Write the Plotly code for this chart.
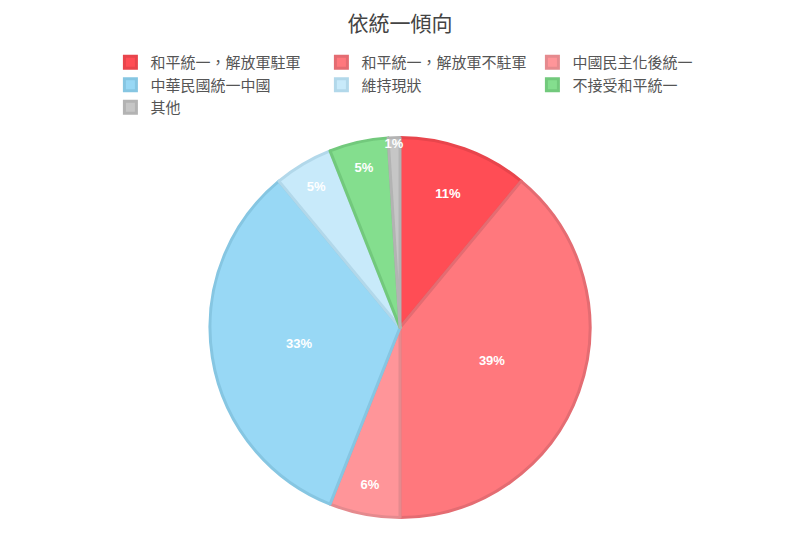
import plotly.graph_objects as go

labels = ["和平統一，解放軍駐軍", "和平統一，解放軍不駐軍", "中國民主化後統一",
          "中華民國統一中國", "維持現狀", "不接受和平統一", "其他"]
values = [11, 39, 6, 33, 5, 5, 1]
colors = ["#FF4D55", "#FF787D", "#FF9599", "#98D8F5", "#C8EAFA", "#84DE8E", "#C6C6C6"]
edge_colors = ["#E8454C", "#E46C72", "#E58A8E", "#86C6E2", "#B2D8EA", "#72C97C", "#B3B3B3"]

fig = go.Figure(go.Pie(
    labels=labels,
    values=values,
    sort=False,
    direction="clockwise",
    rotation=0,
    marker=dict(colors=colors, line=dict(color=edge_colors, width=3)),
    textinfo="percent",
    texttemplate="%{percent:.0%}",
    textposition="inside",
    insidetextorientation="horizontal",
    textfont=dict(color="white", size=13, family="Liberation Sans, Arial, sans-serif", weight="bold"),
    domain=dict(x=[0.2525, 0.7275], y=[0.0457, 0.8032]),
    hoverinfo="label+percent",
))

fig.update_layout(
    width=800, height=533,
    margin=dict(l=0, r=0, t=30, b=0),
    paper_bgcolor="white",
    plot_bgcolor="white",
    uniformtext=dict(minsize=13, mode="show"),
    title=dict(text="依統一傾向", x=0.49, xanchor="center", y=0.985, yanchor="top",
               font=dict(size=21, color="#444444", family="Noto Sans CJK TC")),
    legend=dict(orientation="h", x=0.128, xanchor="left", y=0.984, yanchor="top",
                entrywidth=166, entrywidthmode="pixels",
                font=dict(size=15, color="#555555", family="Noto Sans CJK TC"),
                itemwidth=30, tracegroupgap=0),
    font=dict(family="Noto Sans CJK TC"),
)

fig.write_html("out.html")
